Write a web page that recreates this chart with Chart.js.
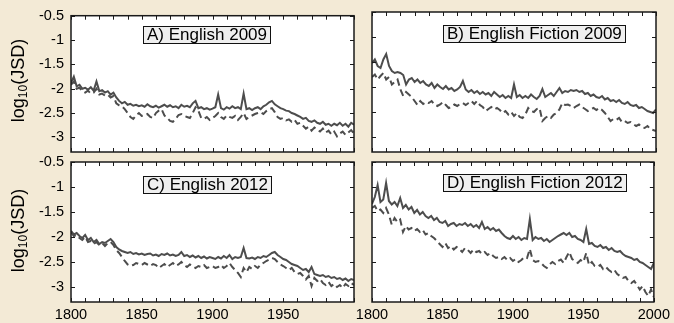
<!DOCTYPE html>
<html>
<head>
<meta charset="utf-8">
<script src="https://cdn.jsdelivr.net/npm/chart.js@4.4.1/dist/chart.umd.min.js"></script>
<style>
body{margin:0;background:#f3ead6;}
#wrap{position:relative;width:674px;height:323px;overflow:hidden;background:#f3ead6;}
canvas{position:absolute;left:0;top:0;}
.box{position:absolute;background:#efefef;border:1.5px solid #111;font:17px "Liberation Sans",Arial,sans-serif;color:#000;line-height:16px;padding:0 3px;white-space:nowrap;}
.ytitle{position:absolute;width:120px;text-align:center;font:18px "Liberation Sans",Arial,sans-serif;color:#000;transform:rotate(-90deg);white-space:nowrap;}
.ytitle sub{font-size:12px;vertical-align:-3px;line-height:0;}
</style>
</head>
<body>
<div id="wrap">
  <canvas id="cA" width="674" height="323"></canvas>
  <canvas id="cB" width="674" height="323"></canvas>
  <canvas id="cC" width="674" height="323"></canvas>
  <canvas id="cD" width="674" height="323"></canvas>
  <div class="box" style="left:143px;top:26px;">A) English 2009</div>
  <div class="box" style="left:443px;top:25px;">B) English Fiction 2009</div>
  <div class="box" style="left:143px;top:176px;">C) English 2012</div>
  <div class="box" style="left:443px;top:174px;">D) English Fiction 2012</div>
  <div class="ytitle" style="left:-42px;top:70px;">log<sub>10</sub>(JSD)</div>
  <div class="ytitle" style="left:-42px;top:220px;">log<sub>10</sub>(JSD)</div>
</div>
<script>
const years = [1800,1802,1804,1806,1808,1810,1812,1814,1816,1818,
  1820,1822,1824,1826,1828,1830,1832,1834,1836,1838,
  1840,1842,1844,1846,1848,1850,1852,1854,1856,1858,
  1860,1862,1864,1866,1868,1870,1872,1874,1876,1878,
  1880,1882,1884,1886,1888,1890,1892,1894,1896,1898,
  1900,1902,1904,1906,1908,1910,1912,1914,1916,1918,
  1920,1922,1924,1926,1928,1930,1932,1934,1936,1938,
  1940,1942,1944,1946,1948,1950,1952,1954,1956,1958,
  1960,1962,1964,1966,1968,1970,1972,1974,1976,1978,
  1980,1982,1984,1986,1988,1990,1992,1994,1996,1998,
  2000];

const xTickValues = [1800,1810,1820,1830,1840,1850,1860,1870,1880,1890,1900,
  1910,1920,1930,1940,1950,1960,1970,1980,1990,2000];
const xLabelYears = [1800,1850,1900,1950,2000];
const yTickValues = [-0.5,-1,-1.5,-2,-2.5,-3];

// A) English 2009
const aSolid = [-1.88,-1.75,-1.95,-1.92,-2.00,-1.98,-2.02,-1.97,-2.04,-1.85,
  -2.05,-2.03,-2.08,-2.05,-2.12,-2.08,-2.18,-2.25,-2.30,-2.27,
  -2.33,-2.31,-2.35,-2.33,-2.36,-2.34,-2.37,-2.32,-2.36,-2.38,
  -2.35,-2.39,-2.36,-2.33,-2.37,-2.34,-2.38,-2.36,-2.40,-2.33,
  -2.37,-2.35,-2.38,-2.30,-2.25,-2.40,-2.38,-2.42,-2.40,-2.43,
  -2.41,-2.38,-2.12,-2.40,-2.43,-2.38,-2.41,-2.36,-2.40,-2.38,
  -2.42,-2.10,-2.42,-2.40,-2.44,-2.40,-2.38,-2.42,-2.36,-2.33,
  -2.28,-2.25,-2.32,-2.36,-2.40,-2.42,-2.45,-2.46,-2.50,-2.52,
  -2.55,-2.58,-2.62,-2.60,-2.66,-2.68,-2.65,-2.70,-2.72,-2.68,
  -2.74,-2.72,-2.76,-2.72,-2.75,-2.70,-2.76,-2.72,-2.78,-2.70,
  -2.74];
const aDashed = [-1.92,-1.85,-2.00,-1.98,-2.05,-2.08,-2.04,-2.10,-2.08,-2.00,
  -2.12,-2.10,-2.14,-2.12,-2.18,-2.15,-2.30,-2.34,-2.36,-2.42,
  -2.50,-2.58,-2.62,-2.55,-2.50,-2.56,-2.55,-2.52,-2.58,-2.60,
  -2.50,-2.45,-2.42,-2.55,-2.60,-2.66,-2.68,-2.62,-2.54,-2.52,
  -2.56,-2.58,-2.60,-2.50,-2.38,-2.45,-2.60,-2.62,-2.58,-2.64,
  -2.60,-2.56,-2.50,-2.58,-2.62,-2.55,-2.58,-2.60,-2.56,-2.64,
  -2.58,-2.50,-2.62,-2.58,-2.55,-2.52,-2.50,-2.48,-2.52,-2.46,
  -2.42,-2.40,-2.48,-2.58,-2.62,-2.60,-2.65,-2.63,-2.68,-2.64,
  -2.72,-2.70,-2.76,-2.82,-2.78,-2.86,-2.80,-2.84,-2.88,-2.82,
  -2.90,-2.86,-2.94,-2.88,-2.98,-2.92,-2.88,-2.95,-2.90,-2.85,
  -2.92];

// B) English Fiction 2009
const bSolid = [-1.52,-1.45,-1.58,-1.62,-1.45,-1.34,-1.58,-1.68,-1.72,-1.70,
  -1.72,-1.76,-1.95,-1.85,-1.82,-1.90,-1.85,-1.92,-1.88,-1.95,
  -1.98,-1.92,-2.02,-1.95,-2.00,-2.04,-1.98,-2.05,-2.02,-2.08,
  -2.05,-2.00,-1.88,-2.05,-2.10,-2.06,-2.12,-2.08,-2.14,-2.10,
  -2.15,-2.12,-2.18,-2.10,-2.15,-2.20,-2.16,-2.22,-2.18,-2.22,
  -1.95,-2.20,-2.16,-2.22,-2.18,-2.22,-2.15,-2.20,-2.24,-2.18,
  -2.04,-2.20,-2.16,-2.12,-2.18,-2.10,-2.02,-2.12,-2.08,-2.10,
  -2.06,-2.08,-2.06,-2.10,-2.08,-2.14,-2.12,-2.18,-2.15,-2.20,
  -2.22,-2.18,-2.25,-2.22,-2.28,-2.26,-2.30,-2.26,-2.32,-2.34,
  -2.30,-2.36,-2.38,-2.36,-2.42,-2.40,-2.44,-2.48,-2.50,-2.52,
  -2.45];
const bDashed = [-1.80,-1.75,-1.85,-1.78,-1.72,-1.85,-1.80,-1.95,-1.90,-1.85,
  -2.05,-2.18,-2.10,-2.15,-2.20,-2.28,-2.36,-2.28,-2.34,-2.30,
  -2.32,-2.28,-2.35,-2.38,-2.35,-2.30,-2.36,-2.42,-2.40,-2.35,
  -2.38,-2.34,-2.32,-2.36,-2.32,-2.28,-2.34,-2.28,-2.36,-2.40,
  -2.48,-2.44,-2.40,-2.45,-2.42,-2.46,-2.52,-2.48,-2.55,-2.50,
  -2.58,-2.52,-2.60,-2.62,-2.55,-2.42,-2.48,-2.50,-2.44,-2.42,
  -2.68,-2.62,-2.58,-2.62,-2.55,-2.52,-2.45,-2.32,-2.36,-2.35,
  -2.38,-2.42,-2.38,-2.35,-2.40,-2.44,-2.48,-2.45,-2.42,-2.46,
  -2.42,-2.46,-2.52,-2.60,-2.68,-2.64,-2.66,-2.62,-2.70,-2.68,
  -2.72,-2.70,-2.74,-2.78,-2.75,-2.80,-2.82,-2.78,-2.84,-2.86,
  -2.88];

// C) English 2012
const cSolid = [-1.88,-1.95,-1.92,-1.98,-2.02,-1.96,-2.06,-2.02,-2.10,-2.06,
  -2.14,-2.10,-2.12,-2.08,-2.04,-2.10,-2.20,-2.25,-2.28,-2.30,
  -2.32,-2.30,-2.34,-2.32,-2.35,-2.33,-2.36,-2.34,-2.33,-2.37,
  -2.35,-2.38,-2.34,-2.36,-2.33,-2.37,-2.35,-2.38,-2.36,-2.30,
  -2.38,-2.36,-2.40,-2.37,-2.41,-2.38,-2.42,-2.39,-2.43,-2.40,
  -2.42,-2.44,-2.40,-2.43,-2.38,-2.42,-2.36,-2.44,-2.40,-2.42,
  -2.40,-2.22,-2.42,-2.43,-2.41,-2.44,-2.40,-2.42,-2.38,-2.40,
  -2.36,-2.32,-2.30,-2.36,-2.40,-2.44,-2.46,-2.50,-2.54,-2.56,
  -2.58,-2.62,-2.66,-2.64,-2.70,-2.60,-2.74,-2.76,-2.78,-2.76,
  -2.80,-2.78,-2.82,-2.80,-2.84,-2.82,-2.86,-2.83,-2.88,-2.84,
  -2.86];
const cDashed = [-1.90,-1.98,-1.96,-2.02,-2.06,-2.00,-2.10,-2.08,-2.14,-2.10,
  -2.16,-2.12,-2.18,-2.12,-2.10,-2.16,-2.26,-2.32,-2.40,-2.48,
  -2.55,-2.58,-2.56,-2.52,-2.54,-2.56,-2.52,-2.55,-2.58,-2.54,
  -2.56,-2.62,-2.58,-2.54,-2.60,-2.56,-2.52,-2.58,-2.55,-2.50,
  -2.56,-2.60,-2.55,-2.58,-2.62,-2.58,-2.60,-2.56,-2.62,-2.60,
  -2.58,-2.62,-2.60,-2.56,-2.62,-2.58,-2.52,-2.60,-2.66,-2.72,
  -2.80,-2.62,-2.70,-2.60,-2.64,-2.58,-2.62,-2.55,-2.52,-2.48,
  -2.45,-2.42,-2.44,-2.50,-2.55,-2.58,-2.62,-2.66,-2.62,-2.70,
  -2.74,-2.72,-2.78,-2.85,-2.78,-2.98,-2.82,-2.88,-2.84,-2.92,
  -2.96,-2.90,-2.98,-2.94,-3.00,-2.96,-3.02,-2.94,-2.98,-2.92,
  -2.96];

// D) English Fiction 2012
const dSolid = [-1.34,-1.20,-0.96,-1.30,-1.25,-0.92,-1.28,-1.35,-1.30,-1.38,
  -1.22,-1.42,-1.36,-1.45,-1.40,-1.52,-1.46,-1.55,-1.50,-1.58,
  -1.62,-1.58,-1.66,-1.62,-1.70,-1.72,-1.68,-1.78,-1.74,-1.72,
  -1.78,-1.74,-1.76,-1.72,-1.78,-1.74,-1.80,-1.76,-1.82,-1.70,
  -1.84,-1.80,-1.86,-1.82,-1.88,-1.85,-1.92,-1.98,-2.02,-2.04,
  -1.98,-2.04,-2.00,-2.06,-2.02,-2.04,-1.64,-2.06,-2.00,-2.04,
  -2.02,-2.08,-2.04,-2.10,-2.06,-2.02,-1.98,-1.95,-1.92,-1.96,
  -1.92,-2.00,-1.98,-2.04,-2.06,-2.10,-1.84,-2.14,-2.12,-2.18,
  -2.20,-2.16,-2.22,-2.20,-2.26,-2.22,-2.28,-2.30,-2.28,-2.34,
  -2.38,-2.40,-2.42,-2.46,-2.44,-2.50,-2.52,-2.56,-2.60,-2.64,
  -2.52];
const dDashed = [-1.42,-1.38,-1.48,-1.45,-1.52,-1.42,-1.55,-1.75,-1.62,-1.70,
  -1.65,-1.90,-1.78,-1.85,-1.82,-1.88,-1.84,-1.90,-1.86,-1.95,
  -1.92,-1.98,-2.02,-2.08,-2.14,-2.20,-2.12,-2.22,-2.18,-2.25,
  -2.20,-2.24,-2.30,-2.22,-2.26,-2.32,-2.25,-2.30,-2.28,-2.34,
  -2.30,-2.36,-2.32,-2.38,-2.42,-2.40,-2.44,-2.40,-2.46,-2.42,
  -2.48,-2.44,-2.50,-2.46,-2.40,-2.42,-2.24,-2.46,-2.50,-2.48,
  -2.52,-2.58,-2.62,-2.55,-2.50,-2.54,-2.48,-2.45,-2.52,-2.40,
  -2.30,-2.44,-2.48,-2.52,-2.46,-2.50,-2.32,-2.56,-2.50,-2.58,
  -2.60,-2.56,-2.64,-2.60,-2.66,-2.70,-2.66,-2.74,-2.78,-2.82,
  -2.80,-2.88,-2.92,-2.88,-2.96,-3.05,-2.98,-3.10,-3.18,-3.05,
  -3.20];

const lineColor = '#4d4d4d';
const tickFont = {family:'"Liberation Sans", Arial, sans-serif', size:14.5};

// white axes box, inward ticks on all four sides, black frame
const framePlugin = {
  id:'frame',
  beforeDraw(chart){
    const a = chart.chartArea, ctx = chart.ctx;
    ctx.save();
    ctx.fillStyle = '#fff';
    ctx.fillRect(a.left, a.top, a.right-a.left, a.bottom-a.top);
    ctx.restore();
  },
  afterDraw(chart){
    const a = chart.chartArea, ctx = chart.ctx;
    const xs = chart.scales.x, ys = chart.scales.y;
    ctx.save();
    ctx.strokeStyle = '#1a1a1a';
    ctx.lineWidth = 1;
    ctx.beginPath();
    xs.ticks.forEach(function(t){
      const px = Math.round(xs.getPixelForValue(t.value)) + 0.5;
      ctx.moveTo(px, a.bottom); ctx.lineTo(px, a.bottom-4);
      ctx.moveTo(px, a.top); ctx.lineTo(px, a.top+4);
    });
    ys.ticks.forEach(function(t){
      const py = Math.round(ys.getPixelForValue(t.value)) + 0.5;
      ctx.moveTo(a.left, py); ctx.lineTo(a.left+4, py);
      ctx.moveTo(a.right, py); ctx.lineTo(a.right-4, py);
    });
    ctx.stroke();
    ctx.lineWidth = 1.5;
    ctx.strokeRect(a.left, a.top, a.right-a.left, a.bottom-a.top);
    ctx.restore();
  }
};

function makePanel(id, solid, dashed, pad, showY, showX, lastLabel){
  const ctx = document.getElementById(id).getContext('2d');
  new Chart(ctx, {
    type:'line',
    data:{
      labels: years,
      datasets:[
        {data: years.map(function(y,i){return {x:y, y:dashed[i]};}),
         borderColor: lineColor, borderWidth:2, borderDash:[7,4],
         pointRadius:0, tension:0, clip:0},
        {data: years.map(function(y,i){return {x:y, y:solid[i]};}),
         borderColor: lineColor, borderWidth:2,
         pointRadius:0, tension:0, clip:0}
      ]
    },
    options:{
      responsive:false,
      animation:false,
      layout:{padding:pad},
      plugins:{legend:{display:false}, tooltip:{enabled:false}},
      scales:{
        x:{
          type:'linear', min:1800, max:2000,
          grid:{display:false, drawTicks:false},
          border:{display:false},
          afterBuildTicks:function(s){ s.ticks = xTickValues.map(function(v){return {value:v};}); },
          afterFit:function(s){ s.height = showX ? 21 : 0; },
          ticks:{
            display: showX, autoSkip:false, maxRotation:0, padding:4,
            color:'#000', font: tickFont,
            callback:function(v){
              if (xLabelYears.indexOf(v) < 0) return '';
              if (v === 2000 && !lastLabel) return '';
              return String(v);
            }
          }
        },
        y:{
          type:'linear', min:-3.3, max:-0.5,
          grid:{display:false, drawTicks:false},
          border:{display:false},
          afterBuildTicks:function(s){ s.ticks = yTickValues.map(function(v){return {value:v};}); },
          afterFit:function(s){ s.width = showY ? 40 : 0; },
          ticks:{
            display: showY, padding:7, color:'#000', font: tickFont,
            callback:function(v){ return String(v); }
          }
        }
      }
    },
    plugins:[framePlugin]
  });
}

makePanel('cA', aSolid, aDashed, {left:31, top:12, right:320, bottom:171}, true, false, false);
makePanel('cB', bSolid, bDashed, {left:372, top:12, right:18, bottom:171}, false, false, false);
makePanel('cC', cSolid, cDashed, {left:31, top:162, right:320, bottom:0}, true, true, false);
makePanel('cD', dSolid, dDashed, {left:372, top:162, right:18, bottom:0}, false, true, true);
</script>
</body>
</html>
